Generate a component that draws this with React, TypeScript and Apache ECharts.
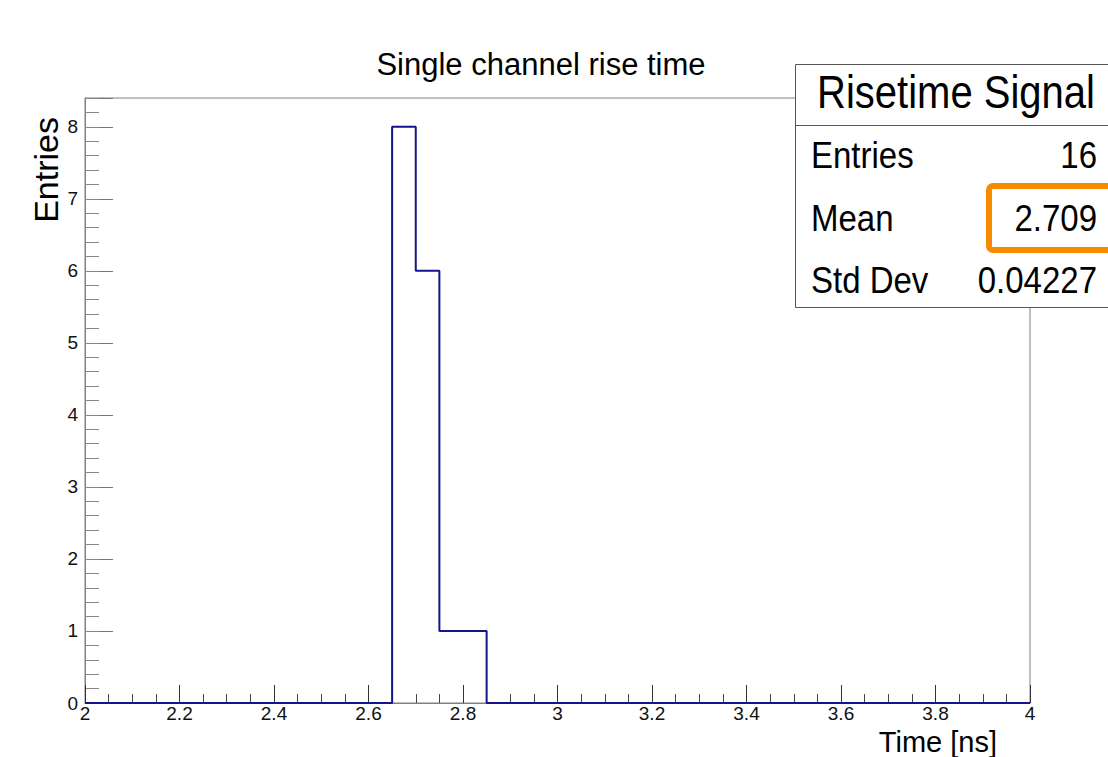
import React, { useEffect, useRef } from "react";
import * as echarts from "echarts";

// ---- data ----
const histTitle = "Single channel rise time";
const xTitle = "Time [ns]";
const yTitle = "Entries";
const binLow = 2.0;
const binWidth = 0.05;
// 40 bins from 2.00 to 4.00
const counts = [
  0, 0, 0, 0, 0, 0, 0, 0, 0, 0,
  0, 0, 0, 8, 6, 1, 1, 0, 0, 0,
  0, 0, 0, 0, 0, 0, 0, 0, 0, 0,
  0, 0, 0, 0, 0, 0, 0, 0, 0, 0,
];
const xTicks = [2, 2.2, 2.4, 2.6, 2.8, 3, 3.2, 3.4, 3.6, 3.8, 4];
const yTicks = [0, 1, 2, 3, 4, 5, 6, 7, 8];
const xMin = 2;
const xMax = 4;
const xStep = 0.2;
const yMin = 0;
const yMax = 8.4;
const yStep = 1;
const yMinorStep = 0.2;

const statsTitle = "Risetime Signal";
const statLabels = ["Entries", "Mean", "Std Dev"];
const statValues = ["16", "2.709", "0.04227"];

const FONT = "'Liberation Sans', Arial, sans-serif";

export default function App() {
  const ref = useRef<HTMLDivElement>(null);

  useEffect(() => {
    if (!ref.current) return;
    const chart = echarts.init(ref.current, undefined, { renderer: "svg" });

    const stepPts: number[][] = [];
    counts.forEach((c, i) => {
      const lo = binLow + i * binWidth;
      const hi = lo + binWidth;
      stepPts.push([+lo.toFixed(4), c]);
      stepPts.push([+hi.toFixed(4), c]);
    });

    chart.setOption({
      animation: false,
      backgroundColor: "#fff",
      grid: {
        left: 85,
        top: 98,
        right: 78,
        bottom: 54,
        show: true,
        borderColor: "#808080",
        borderWidth: 1,
        backgroundColor: "transparent",
      },
      xAxis: {
        type: "value",
        min: xMin,
        max: xMax,
        interval: xStep,
        axisLine: { show: true, lineStyle: { color: "#808080", width: 1 } },
        axisTick: { show: true, inside: true, length: 18, lineStyle: { color: "#333", width: 1 } },
        minorTick: { show: true, splitNumber: 4, length: 9, lineStyle: { color: "#444", width: 1 } },
        splitLine: { show: false },
        minorSplitLine: { show: false },
        axisLabel: { show: false },
      },
      yAxis: [
        {
          type: "value",
          min: yMin,
          max: yMax,
          interval: yStep,
          position: "left",
          axisLine: { show: true, lineStyle: { color: "#808080", width: 1 } },
          axisTick: { show: true, inside: true, length: 28, lineStyle: { color: "#777", width: 1 } },
          splitLine: { show: false },
          axisLabel: { show: false },
        },
        {
          type: "value",
          min: yMin,
          max: yMax,
          interval: yMinorStep,
          position: "left",
          offset: 0,
          axisLine: { show: false },
          axisTick: { show: true, inside: true, length: 14, lineStyle: { color: "#888", width: 1 } },
          axisLabel: { show: false },
          splitLine: { show: false },
        },
      ],
      series: [
        {
          type: "line",
          data: stepPts,
          showSymbol: false,
          symbol: "none",
          clip: false,
          lineStyle: { color: "#14148c", width: 2 },
          z: 5,
        },
      ],
    });

    const rowY = [155, 218, 280];

    const tickLabels: any[] = [];
    xTicks.forEach((v) => {
      const p = chart.convertToPixel({ gridIndex: 0 }, [v, yMin]) as number[];
      tickLabels.push({
        type: "text",
        x: p[0],
        y: p[1] + 10,
        style: { text: String(v), font: `19px ${FONT}`, fill: "#111", align: "center", verticalAlign: "middle" },
      });
    });
    yTicks.forEach((v) => {
      const p = chart.convertToPixel({ gridIndex: 0 }, [xMin, v]) as number[];
      tickLabels.push({
        type: "text",
        x: p[0] - 7,
        y: p[1],
        style: { text: String(v), font: `19px ${FONT}`, fill: "#111", align: "right", verticalAlign: "middle" },
      });
    });

    const graphics: any[] = [
      ...tickLabels,
      {
        type: "text",
        x: 541,
        y: 64,
        style: { text: histTitle, font: `31px ${FONT}`, fill: "#000", align: "center", verticalAlign: "middle" },
      },
      {
        type: "text",
        x: 46,
        y: 117,
        rotation: Math.PI / 2,
        style: { text: yTitle, font: `34px ${FONT}`, fill: "#000", align: "right", verticalAlign: "middle" },
      },
      {
        type: "text",
        x: 997,
        y: 742,
        style: { text: xTitle, font: `29px ${FONT}`, fill: "#000", align: "right", verticalAlign: "middle" },
      },
      {
        type: "rect",
        shape: { x: 795.5, y: 64.5, width: 330, height: 243 },
        style: { fill: "#fff", stroke: "#555", lineWidth: 1 },
        z: 100,
      },
      {
        type: "line",
        shape: { x1: 795.5, y1: 125.5, x2: 1110, y2: 125.5 },
        style: { stroke: "#555", lineWidth: 1 },
        z: 101,
      },
      {
        type: "text",
        x: 956,
        y: 92,
        scaleY: 1.14,
        z: 102,
        style: { text: statsTitle, font: `40px ${FONT}`, fill: "#000", align: "center", verticalAlign: "middle" },
      },
      ...statLabels.map((l, i) => ({
        type: "text",
        x: 811,
        y: rowY[i],
        scaleY: 1.14,
        z: 102,
        style: { text: l, font: `33px ${FONT}`, fill: "#000", align: "left", verticalAlign: "middle" },
      })),
      ...statValues.map((v, i) => ({
        type: "text",
        x: 1097,
        y: rowY[i],
        scaleY: 1.14,
        z: 102,
        style: { text: v, font: `33px ${FONT}`, fill: "#000", align: "right", verticalAlign: "middle" },
      })),
      {
        type: "rect",
        shape: { x: 989, y: 186, width: 140, height: 64, r: 4 },
        style: { fill: "none", stroke: "#f78b00", lineWidth: 6 },
        z: 103,
      },
    ];

    chart.setOption({ graphic: graphics });

    return () => chart.dispose();
  }, []);

  return (
    <div
      ref={ref}
      style={{ position: "fixed", left: 0, top: 0, width: 1108, height: 757, background: "#fff" }}
    />
  );
}
